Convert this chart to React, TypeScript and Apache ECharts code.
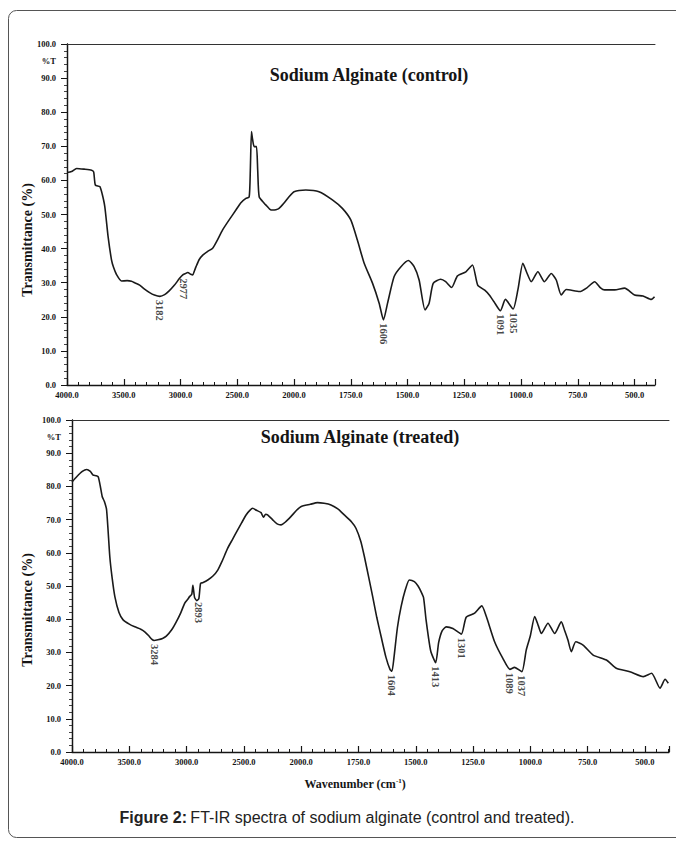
import { useEffect, useRef } from "react";
import * as echarts from "echarts";

// ---- data (wavenumber in cm^-1, transmittance in %) ----
const controlWavenumber = [
  4000, 3960, 3915, 3850, 3783, 3765, 3750, 3711, 3690, 3667, 3638, 3608, 3590, 3564, 3520,
  3470, 3432, 3400, 3360, 3320, 3272, 3230, 3182, 3140, 3100, 3053, 3010, 2980, 2960, 2936,
  2910, 2892, 2877, 2863, 2835, 2804, 2760, 2717, 2680, 2629, 2570, 2512, 2470, 2424, 2395,
  2385, 2375, 2365, 2351, 2331, 2320, 2307, 2263, 2240, 2215, 2190, 2160, 2132, 2090, 2044,
  2000, 1948, 1890, 1831, 1787, 1750, 1721, 1691, 1654, 1625, 1606, 1588, 1559, 1529, 1496,
  1471, 1449, 1423, 1405, 1387, 1354, 1332, 1306, 1280, 1243, 1214, 1191, 1160, 1140, 1120,
  1091, 1069, 1035, 1014, 992, 975, 955, 926, 897, 867, 845, 823, 801, 742, 710,
  676, 650, 632, 588, 544, 500, 463, 426, 412,
];
const controlTransmittance = [
  62.3, 62.6, 63.5, 63.3, 63.0, 62.5, 58.6, 58.2, 56.0, 52.3, 43.5, 36.7, 34.5, 32.4, 30.5,
  30.6, 30.4, 29.9, 29.3, 28.2, 27.1, 26.4, 26.0, 26.5, 27.6, 29.3, 31.2, 32.3, 32.6, 33.0,
  32.5, 32.3, 33.5, 34.7, 36.8, 38.1, 39.2, 40.1, 42.2, 45.5, 48.5, 51.3, 53.4, 54.7, 55.2,
  63.0, 74.3, 72.0, 69.9, 69.9, 63.0, 55.2, 53.3, 52.5, 51.6, 51.3, 51.4, 51.8, 53.3, 55.2,
  56.7, 57.2, 56.7, 54.3, 51.8, 48.4, 42.5, 35.7, 29.8, 24.0, 19.1, 24.0, 31.8, 34.7, 36.5,
  34.7, 30.8, 22.0, 24.0, 29.8, 31.0, 30.3, 28.6, 32.0, 33.2, 35.2, 29.3, 27.8, 26.4, 24.5,
  21.8, 25.1, 22.3, 27.9, 35.7, 33.0, 30.3, 33.2, 30.3, 32.7, 30.8, 26.4, 28.0, 27.4, 28.5,
  30.3, 28.5, 27.9, 27.9, 28.4, 26.4, 26.1, 25.1, 25.9,
];
const treatedWavenumber = [
  4000, 3959, 3910, 3872, 3840, 3815, 3790, 3771, 3750, 3736, 3718, 3698, 3670, 3650, 3626,
  3590, 3554, 3500, 3452, 3400, 3365, 3330, 3302, 3284, 3250, 3210, 3177, 3130, 3090, 3050,
  3017, 2990, 2974, 2955, 2945, 2930, 2910, 2893, 2878, 2860, 2815, 2770, 2728, 2690, 2641,
  2600, 2554, 2520, 2481, 2450, 2423, 2390, 2350, 2330, 2310, 2293, 2250, 2210, 2176, 2140,
  2090, 2040, 2003, 1960, 1929, 1900, 1870, 1840, 1812, 1780, 1761, 1740, 1724, 1705, 1688,
  1670, 1651, 1630, 1612, 1604, 1595, 1580, 1564, 1545, 1528, 1506, 1490, 1477, 1466, 1455,
  1435, 1413, 1400, 1385, 1367, 1338, 1301, 1280, 1243, 1212, 1192, 1156, 1120, 1089, 1069,
  1037, 1018, 1000, 981, 965, 952, 923, 894, 865, 850, 836, 821, 802, 770, 726,
  668, 625, 566, 507, 471, 434, 412, 398,
];
const treatedTransmittance = [
  81.3, 82.9, 84.5, 85.1, 84.5, 83.4, 83.2, 82.9, 79.5, 76.9, 75.5, 72.9, 58.8, 52.5, 46.8,
  42.0, 39.8, 38.5, 37.7, 37.0, 36.2, 35.0, 33.9, 33.6, 33.8, 34.2, 34.9, 36.8, 39.2, 42.0,
  44.8, 46.0, 46.8, 47.5, 50.2, 46.5, 45.6, 46.2, 50.8, 51.0, 51.8, 53.0, 54.8, 57.5, 61.4,
  64.0, 66.9, 69.0, 71.4, 72.7, 73.4, 72.8, 72.1, 70.7, 71.6, 71.4, 70.0, 68.7, 68.4, 69.2,
  70.9, 72.8, 73.9, 74.6, 75.1, 74.9, 74.4, 73.2, 71.4, 69.3, 67.4, 63.5, 58.8, 52.5, 46.8,
  40.5, 34.7, 28.5, 24.8, 24.3, 28.5, 37.5, 43.8, 49.0, 51.8, 51.3, 50.0, 48.3, 46.5, 39.8,
  30.5, 26.9, 33.0, 36.5, 37.7, 37.2, 35.5, 40.6, 41.8, 44.0, 40.8, 33.2, 28.2, 24.9, 25.5,
  24.2, 30.7, 35.0, 40.8, 38.0, 35.7, 38.8, 35.7, 39.2, 36.5, 33.7, 30.2, 33.2, 32.2, 29.2,
  27.7, 25.2, 24.2, 22.7, 23.7, 19.2, 21.9, 20.7,
];
const controlPeaks = [3182, 2977, 1606, 1091, 1035];
const controlPeakT = [26.0, 32.3, 19.1, 21.8, 22.3];
const treatedPeaks = [3284, 2893, 1604, 1413, 1301, 1089, 1037];
const treatedPeakT = [33.6, 46.2, 24.3, 26.9, 35.5, 24.9, 24.2];

// Instrument x-scale: 4000–2000 at one scale, below 2000 at double scale
const toAxis = (w: number) => (w >= 2000 ? 4000 - w : 2000 + 2 * (2000 - w));
const fromAxis = (p: number) => (p <= 2000 ? 4000 - p : 2000 - (p - 2000) / 2);

const SERIF = "'Liberation Serif', 'DejaVu Serif', serif";
const SANS = "'Liberation Sans', Arial, sans-serif";
const INK = "#151515";

function makeX(gridIndex: number, max: number, position: string, main: boolean) {
  return {
    type: "value",
    gridIndex,
    position,
    min: 0,
    max,
    interval: 500,
    axisLine: { show: true, onZero: false, lineStyle: { color: main ? INK : "#333", width: main ? 1.3 : 1 } },
    axisTick: { show: main, inside: true, length: 6, lineStyle: { color: INK, width: 1.2 } },
    minorTick: { show: main, splitNumber: 5, length: 3, lineStyle: { color: INK, width: 1 } },
    axisLabel: {
      show: main,
      margin: 5,
      showMaxLabel: false,
      fontFamily: SERIF,
      fontWeight: "bold",
      fontSize: 8.5,
      color: INK,
      formatter: (v: number) => (v % 500 === 0 ? fromAxis(v).toFixed(1) : ""),
    },
    splitLine: { show: false },
    minorSplitLine: { show: false },
  };
}

function makeY(gridIndex: number, position: string, main: boolean) {
  return {
    type: "value",
    gridIndex,
    position,
    min: 0,
    max: 100,
    interval: 10,
    axisLine: { show: true, lineStyle: { color: INK, width: main ? 1.3 : 1.2 } },
    axisTick: { show: true, inside: !main, length: main ? 6 : 4, lineStyle: { color: INK, width: 1 } },
    minorTick: { show: main, splitNumber: 5, length: 3, lineStyle: { color: INK, width: 0.8 } },
    axisLabel: {
      show: main,
      margin: 11,
      fontFamily: SERIF,
      fontWeight: "bold",
      fontSize: 8.5,
      color: INK,
      formatter: (v: number) => v.toFixed(1),
    },
    splitLine: { show: false },
  };
}

function peakSeries(xi: number, yi: number, waves: number[], ts: number[]) {
  return {
    type: "scatter",
    xAxisIndex: xi,
    yAxisIndex: yi,
    symbolSize: 1,
    itemStyle: { color: "rgba(0,0,0,0)" },
    data: waves.map((w, i) => [toAxis(w), ts[i], w]),
    label: {
      show: true,
      position: "bottom",
      distance: 3,
      rotate: -90,
      align: "left",
      verticalAlign: "middle",
      fontFamily: SERIF,
      fontWeight: "bold",
      fontSize: 10.5,
      color: INK,
      formatter: (p: any) => String(p.value[2]),
    },
    z: 5,
  };
}

function lineSeries(xi: number, yi: number, waves: number[], ts: number[]) {
  return {
    type: "line",
    xAxisIndex: xi,
    yAxisIndex: yi,
    showSymbol: false,
    smooth: 0.2,
    lineStyle: { color: "#1a1a1a", width: 1.6 },
    data: waves.map((w, i) => [toAxis(w), ts[i]]),
  };
}

export default function App() {
  const ref = useRef<HTMLDivElement>(null);
  useEffect(() => {
    if (!ref.current) return;
    const chart = echarts.init(ref.current, undefined, { renderer: "svg" });
    chart.setOption({
      animation: false,
      backgroundColor: "#ffffff",
      grid: [
        { left: 67, top: 44, width: 588, height: 341 },
        { left: 72, top: 420, width: 597, height: 332 },
      ],
      xAxis: [
        makeX(0, 5180, "bottom", true),
        makeX(0, 5180, "top", false),
        makeX(1, 5210, "bottom", true),
        makeX(1, 5210, "top", false),
      ],
      yAxis: [
        makeY(0, "left", true),
        makeY(0, "right", false),
        makeY(1, "left", true),
        makeY(1, "right", false),
      ],
      series: [
        lineSeries(0, 0, controlWavenumber, controlTransmittance),
        peakSeries(0, 0, controlPeaks, controlPeakT),
        lineSeries(2, 2, treatedWavenumber, treatedTransmittance),
        peakSeries(2, 2, treatedPeaks, treatedPeakT),
      ],
      graphic: [
        {
          type: "rect",
          silent: true,
          shape: { x: 8.5, y: 10.5, width: 720, height: 827, r: 8 },
          style: { fill: "none", stroke: "#555", lineWidth: 1 },
        },
        {
          type: "text",
          x: 369,
          y: 75,
          style: {
            text: "Sodium Alginate (control)",
            font: `bold 18px ${SERIF}`,
            fill: INK,
            align: "center",
            verticalAlign: "middle",
          },
        },
        {
          type: "text",
          x: 360,
          y: 437,
          style: {
            text: "Sodium Alginate (treated)",
            font: `bold 18px ${SERIF}`,
            fill: INK,
            align: "center",
            verticalAlign: "middle",
          },
        },
        {
          type: "text",
          x: 27,
          y: 240,
          rotation: Math.PI / 2,
          style: {
            text: "Transmittance (%)",
            font: `bold 14px ${SERIF}`,
            fill: INK,
            align: "center",
            verticalAlign: "middle",
          },
        },
        {
          type: "text",
          x: 27,
          y: 610,
          rotation: Math.PI / 2,
          style: {
            text: "Transmittance (%)",
            font: `bold 14px ${SERIF}`,
            fill: INK,
            align: "center",
            verticalAlign: "middle",
          },
        },
        {
          type: "text",
          x: 56,
          y: 61,
          style: { text: "%T", font: `bold 8.5px ${SERIF}`, fill: INK, align: "right", verticalAlign: "middle" },
        },
        {
          type: "text",
          x: 61,
          y: 437,
          style: { text: "%T", font: `bold 8.5px ${SERIF}`, fill: INK, align: "right", verticalAlign: "middle" },
        },
        {
          type: "text",
          x: 355,
          y: 784,
          style: {
            text: "{a|Wavenumber (cm}{s|-1}{a|)}",
            align: "center",
            verticalAlign: "middle",
            rich: {
              a: { font: `bold 12px ${SERIF}`, fill: INK, lineHeight: 14 },
              s: { font: `bold 7px ${SERIF}`, fill: INK, verticalAlign: "top", lineHeight: 14 },
            },
          },
        },
        {
          type: "text",
          x: 347,
          y: 817,
          style: {
            text: "{b|Figure 2:} {n|FT-IR spectra of sodium alginate (control and treated).}",
            align: "center",
            verticalAlign: "middle",
            rich: {
              b: { font: `bold 16px ${SANS}`, fill: "#222" },
              n: { font: `16px ${SANS}`, fill: "#222" },
            },
          },
        },
      ],
    });
    return () => chart.dispose();
  }, []);
  return (
    <div
      ref={ref}
      style={{ position: "absolute", left: 0, top: 0, width: 676, height: 843, background: "#fff" }}
    />
  );
}
